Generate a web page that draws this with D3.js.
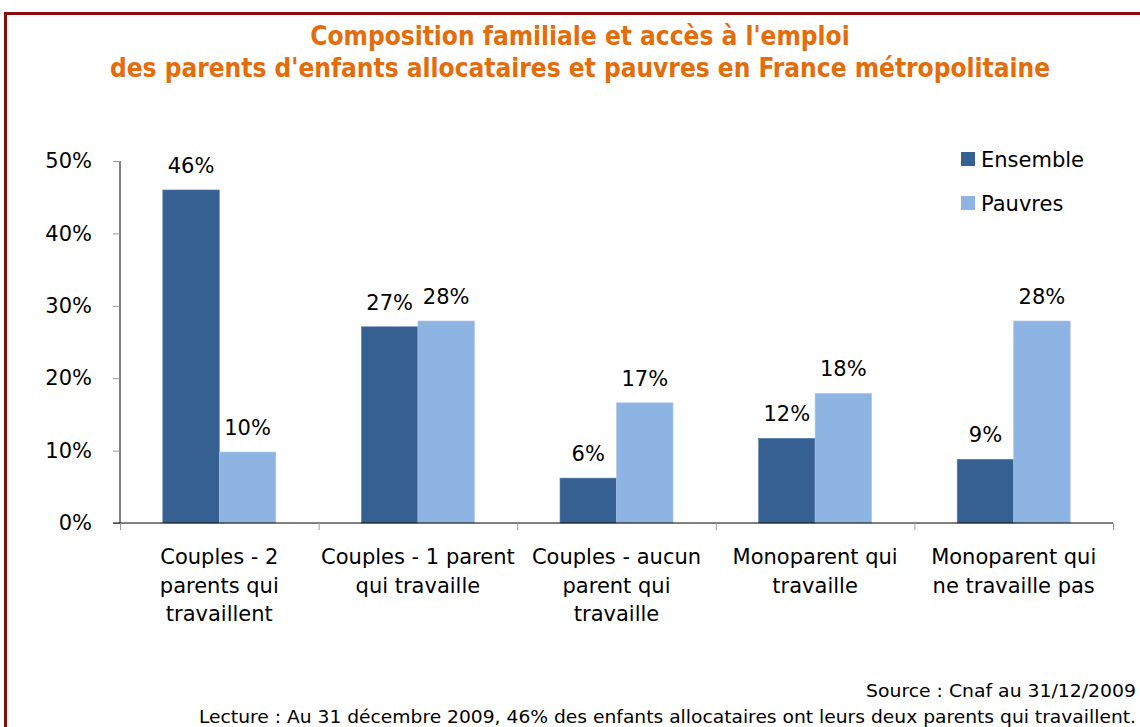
<!DOCTYPE html>
<html><head><meta charset="utf-8">
<script src="https://cdn.jsdelivr.net/npm/d3@7"></script>
<style>body{margin:0;background:#fff;} svg{display:block;}</style>
</head><body>
<script>
const categories = [
  ["Couples - 2", "parents qui", "travaillent"],
  ["Couples - 1 parent", "qui travaille"],
  ["Couples - aucun", "parent qui", "travaille"],
  ["Monoparent qui", "travaille"],
  ["Monoparent qui", "ne travaille pas"]
];
const seriesNames = ["Ensemble", "Pauvres"];
const ensemble = [46.0, 27.1, 6.2, 11.7, 8.8];
const pauvres = [9.8, 27.9, 16.6, 17.9, 27.9];
const yTicks = [0, 10, 20, 30, 40, 50];
const titleLines = ["Composition familiale et accès à l'emploi",
  "des parents d'enfants allocataires et pauvres en France métropolitaine"];
const sourceText = "Source : Cnaf au 31/12/2009";
const lectureText = "Lecture : Au 31 décembre 2009, 46% des enfants allocataires ont leurs deux parents qui travaillent.";
const colors = ["#376092", "#8EB4E3"];

const W = 1140, H = 727;
const svg = d3.select("body").append("svg").attr("width", W).attr("height", H);
svg.append("rect").attr("width", W).attr("height", H).attr("fill", "#fff");

// border
svg.append("path").attr("d", `M5.5,${H+5} L5.5,13.5 L${W+5},13.5`)
  .attr("fill", "none").attr("stroke", "#8B0A0A").attr("stroke-width", 3);

// title
svg.append("g").selectAll("text").data(titleLines).join("text")
  .attr("x", 580).attr("y", (d, i) => 45 + i * 32)
  .attr("text-anchor", "middle")
  .attr("font-family", "DejaVu Sans Condensed, DejaVu Sans")
  .attr("font-weight", "bold").attr("font-size", 26)
  .attr("fill", "#E46C0A").text(d => d);

const x0 = d3.scaleBand().domain(d3.range(categories.length)).range([120, 1113]).paddingInner(0).paddingOuter(0);
const y = d3.scaleLinear().domain([0, 50]).range([523, 161]);
const barW = 56.5;
const x1 = d3.scaleBand().domain([0, 1]).range([0, barW * 2]);
const fmt = v => Math.round(v) + "%";

// y axis
const yAxis = svg.append("g").attr("transform", "translate(120,0)")
  .call(d3.axisLeft(y).tickValues(yTicks).tickFormat(d => d + "%").tickSize(7).tickPadding(21));
yAxis.select(".domain").attr("stroke", "#000").attr("d", `M0,${y(50)}V${y(0)}`);
yAxis.selectAll(".tick line").attr("stroke", "#999");
yAxis.selectAll(".tick text").attr("font-family", "DejaVu Sans").attr("font-size", 21).attr("fill", "#000");

// bars
const groups = svg.append("g").selectAll("g").data(categories.map((c, i) => i)).join("g")
  .attr("transform", i => `translate(${x0(i) + x0.bandwidth() / 2 - barW},0)`);
[ensemble, pauvres].forEach((vals, s) => {
  groups.append("rect")
    .attr("x", x1(s)).attr("width", x1.bandwidth())
    .attr("y", i => y(vals[i])).attr("height", i => y(0) - y(vals[i]))
    .attr("fill", colors[s]).attr("stroke", s === 0 ? "#5b7fae" : "#a9c6ea").attr("stroke-width", 0.6);
  groups.append("text")
    .attr("x", x1(s) + x1.bandwidth() / 2).attr("y", i => y(vals[i]) - 17)
    .attr("text-anchor", "middle").attr("font-family", "DejaVu Sans").attr("font-size", 21)
    .attr("fill", "#000").text(i => fmt(vals[i]));
});

// x axis
const xg = svg.append("g");
xg.append("line").attr("x1", 113).attr("x2", 1113).attr("y1", y(0)).attr("y2", y(0)).attr("stroke", "#000");
xg.selectAll("line.t").data(d3.range(categories.length + 1)).join("line").attr("class", "t")
  .attr("x1", i => 120.5 + i * x0.bandwidth()).attr("x2", i => 120.5 + i * x0.bandwidth())
  .attr("y1", y(0)).attr("y2", y(0) + 7).attr("stroke", "#999");
const labels = xg.selectAll("text").data(categories).join("text")
  .attr("text-anchor", "middle").attr("font-family", "DejaVu Sans").attr("font-size", 21).attr("fill", "#000")
  .attr("transform", (d, i) => `translate(${x0(i) + x0.bandwidth() / 2},0)`);
labels.selectAll("tspan").data(d => d).join("tspan").attr("x", 0).attr("y", (d, j) => 564 + j * 28.5).text(d => d);

// legend
const leg = svg.append("g").selectAll("g").data(seriesNames).join("g")
  .attr("transform", (d, i) => `translate(961,${152 + i * 44})`);
leg.append("rect").attr("width", 14).attr("height", 14).attr("fill", (d, i) => colors[i]);
leg.append("text").attr("x", 20).attr("y", 15).attr("font-family", "DejaVu Sans").attr("font-size", 21)
  .attr("fill", "#000").text(d => d);

// footer
svg.append("text").attr("x", 1136).attr("y", 697).attr("text-anchor", "end")
  .attr("font-family", "DejaVu Sans").attr("font-size", 18).attr("fill", "#000")
  .attr("textLength", 270).attr("lengthAdjust", "spacingAndGlyphs").text(sourceText);
svg.append("text").attr("x", 1136).attr("y", 723).attr("text-anchor", "end")
  .attr("font-family", "DejaVu Sans").attr("font-size", 18).attr("fill", "#000")
  .attr("textLength", 937).attr("lengthAdjust", "spacingAndGlyphs").text(lectureText);
</script>
</body></html>
